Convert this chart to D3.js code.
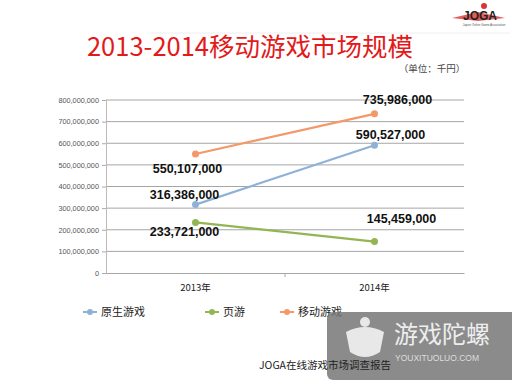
<!DOCTYPE html>
<html><head><meta charset="utf-8">
<script src="https://cdn.jsdelivr.net/npm/d3@7"></script>
<style>body{margin:0;background:#fff}svg{display:block}</style>
</head><body>
<script>
const categories = ["2013年", "2014年"];
const seriesNames = ["原生游戏", "页游", "移动游戏"];
const nativeGames = [316386000, 590527000];
const webGames = [233721000, 145459000];
const mobileGames = [550107000, 735986000];
const yTicks = [0,100000000,200000000,300000000,400000000,500000000,600000000,700000000,800000000];
const colors = ["#8fb1d6", "#93b552", "#f4986a"];

const series = [nativeGames, webGames, mobileGames];
const W = 512, H = 384;
const svg = d3.select("body").append("svg").attr("width", W).attr("height", H)
  .style("font-family", "Arial, 'Liberation Sans', sans-serif");

// header line and logo
svg.append("line").attr("x1", 150).attr("x2", 510).attr("y1", 33).attr("y2", 33).attr("stroke", "#eee");
svg.append("circle").attr("cx", 484).attr("cy", 6).attr("r", 3).attr("fill", "#d33");
svg.append("path").attr("d", "M452,18 L478,12 L505,18 L478,21 Z").attr("fill", "#d33").attr("opacity", 0.8);
svg.append("text").attr("x", 480).attr("y", 20).attr("text-anchor", "middle").attr("font-size", 12)
  .attr("font-weight", "bold").attr("fill", "#222").text("JOGA");
svg.append("text").attr("x", 484).attr("y", 26).attr("text-anchor", "middle").attr("font-size", 3)
  .attr("fill", "#555").text("Japan Online Game Association");

svg.append("text").attr("x", 250).attr("y", 56).attr("text-anchor", "middle")
  .attr("font-size", 25.5).attr("fill", "#e3191b")
  .style("font-family", "'Noto Sans CJK SC', sans-serif")
  .text("2013-2014移动游戏市场规模");
svg.append("text").attr("x", 432).attr("y", 72).attr("text-anchor", "middle")
  .attr("font-size", 9.5).attr("fill", "#444")
  .style("font-family", "'Noto Sans CJK SC', sans-serif")
  .text("（单位：千円）");

const x = d3.scaleBand().domain(categories).range([106, 464]);
const y = d3.scaleLinear().domain([0, 800000000]).range([273, 100]);

// grid
svg.append("g").selectAll("line").data(yTicks.filter(d => d > 0)).join("line")
  .attr("x1", 106).attr("x2", 464).attr("y1", d => y(d)).attr("y2", d => y(d))
  .attr("stroke", "#a6a6a6").attr("stroke-width", 1);

const yAxis = svg.append("g").attr("transform", "translate(106,0)")
  .call(d3.axisLeft(y).tickValues(yTicks).tickFormat(d3.format(",")).tickSize(4).tickPadding(3));
yAxis.select(".domain").attr("stroke", "#bbb");
yAxis.selectAll(".tick line").attr("stroke", "#aaa");
yAxis.selectAll("text").attr("font-size", 7.3).attr("fill", "#555");

const xAxis = svg.append("g").attr("transform", "translate(0,273)")
  .call(d3.axisBottom(x).tickSize(0).tickPadding(11));
xAxis.select(".domain").attr("stroke", "#a6a6a6");
xAxis.selectAll("text").attr("font-size", 9.5).attr("fill", "#222")
  .style("font-family", "'Noto Sans CJK SC', sans-serif");
svg.append("line").attr("x1", 285).attr("x2", 285).attr("y1", 273).attr("y2", 277).attr("stroke", "#aaa");

const cx = c => x(c) + x.bandwidth() / 2;
const line = d3.line().x((d, i) => cx(categories[i])).y(d => y(d));
series.forEach((s, k) => {
  svg.append("path").attr("d", line(s)).attr("fill", "none").attr("stroke", colors[k]).attr("stroke-width", 2.2);
  svg.append("g").selectAll("circle").data(s).join("circle")
    .attr("cx", (d, i) => cx(categories[i])).attr("cy", d => y(d)).attr("r", 3.5).attr("fill", colors[k]);
});

// data labels
const labelOffsets = [
  [[-11, -10], [16, -11]],
  [[-11, 9], [27, -23]],
  [[-8, 15], [23, -14]]
];
const fmt = d3.format(",");
series.forEach((s, k) => {
  s.forEach((v, i) => {
    svg.append("text").attr("x", cx(categories[i]) + labelOffsets[k][i][0])
      .attr("y", y(v) + labelOffsets[k][i][1]).attr("dy", "0.35em")
      .attr("text-anchor", "middle").attr("font-size", 12.5).attr("font-weight", "bold")
      .attr("fill", "#111").text(fmt(v));
  });
});

// legend
const legX = [83, 205, 280];
seriesNames.forEach((n, k) => {
  const g = svg.append("g").attr("transform", `translate(${legX[k]},312)`);
  g.append("line").attr("x1", 0).attr("x2", 14).attr("stroke", colors[k]).attr("stroke-width", 2);
  g.append("circle").attr("cx", 7).attr("r", 3).attr("fill", colors[k]);
  g.append("text").attr("x", 18).attr("dy", "0.35em").attr("font-size", 11).attr("fill", "#222")
    .style("font-family", "'Noto Sans CJK SC', sans-serif").text(n);
});

// watermark
const wm = svg.append("g");
wm.append("rect").attr("x", 327).attr("y", 312).attr("width", 200).attr("height", 68).attr("rx", 6)
  .attr("fill", "#777").attr("opacity", 0.85);
wm.append("path").attr("d", "M346,332 Q365,322 384,332 L380,352 Q365,362 350,352 Z").attr("fill", "#e8e8e8");
wm.append("circle").attr("cx", 365).attr("cy", 322).attr("r", 5).attr("fill", "#e8e8e8");
wm.append("text").attr("x", 394).attr("y", 343).attr("font-size", 24).attr("fill", "#eee")
  .style("font-family", "'Noto Sans CJK SC', sans-serif").text("游戏陀螺");
wm.append("text").attr("x", 395).attr("y", 361).attr("font-size", 8.5).attr("fill", "#ddd").text("YOUXITUOLUO.COM");

svg.append("text").attr("x", 325).attr("y", 369).attr("text-anchor", "middle").attr("font-size", 10.5)
  .attr("fill", "#222").style("font-family", "'Noto Sans CJK SC', sans-serif").text("JOGA在线游戏市场调查报告");
</script>
</body></html>
